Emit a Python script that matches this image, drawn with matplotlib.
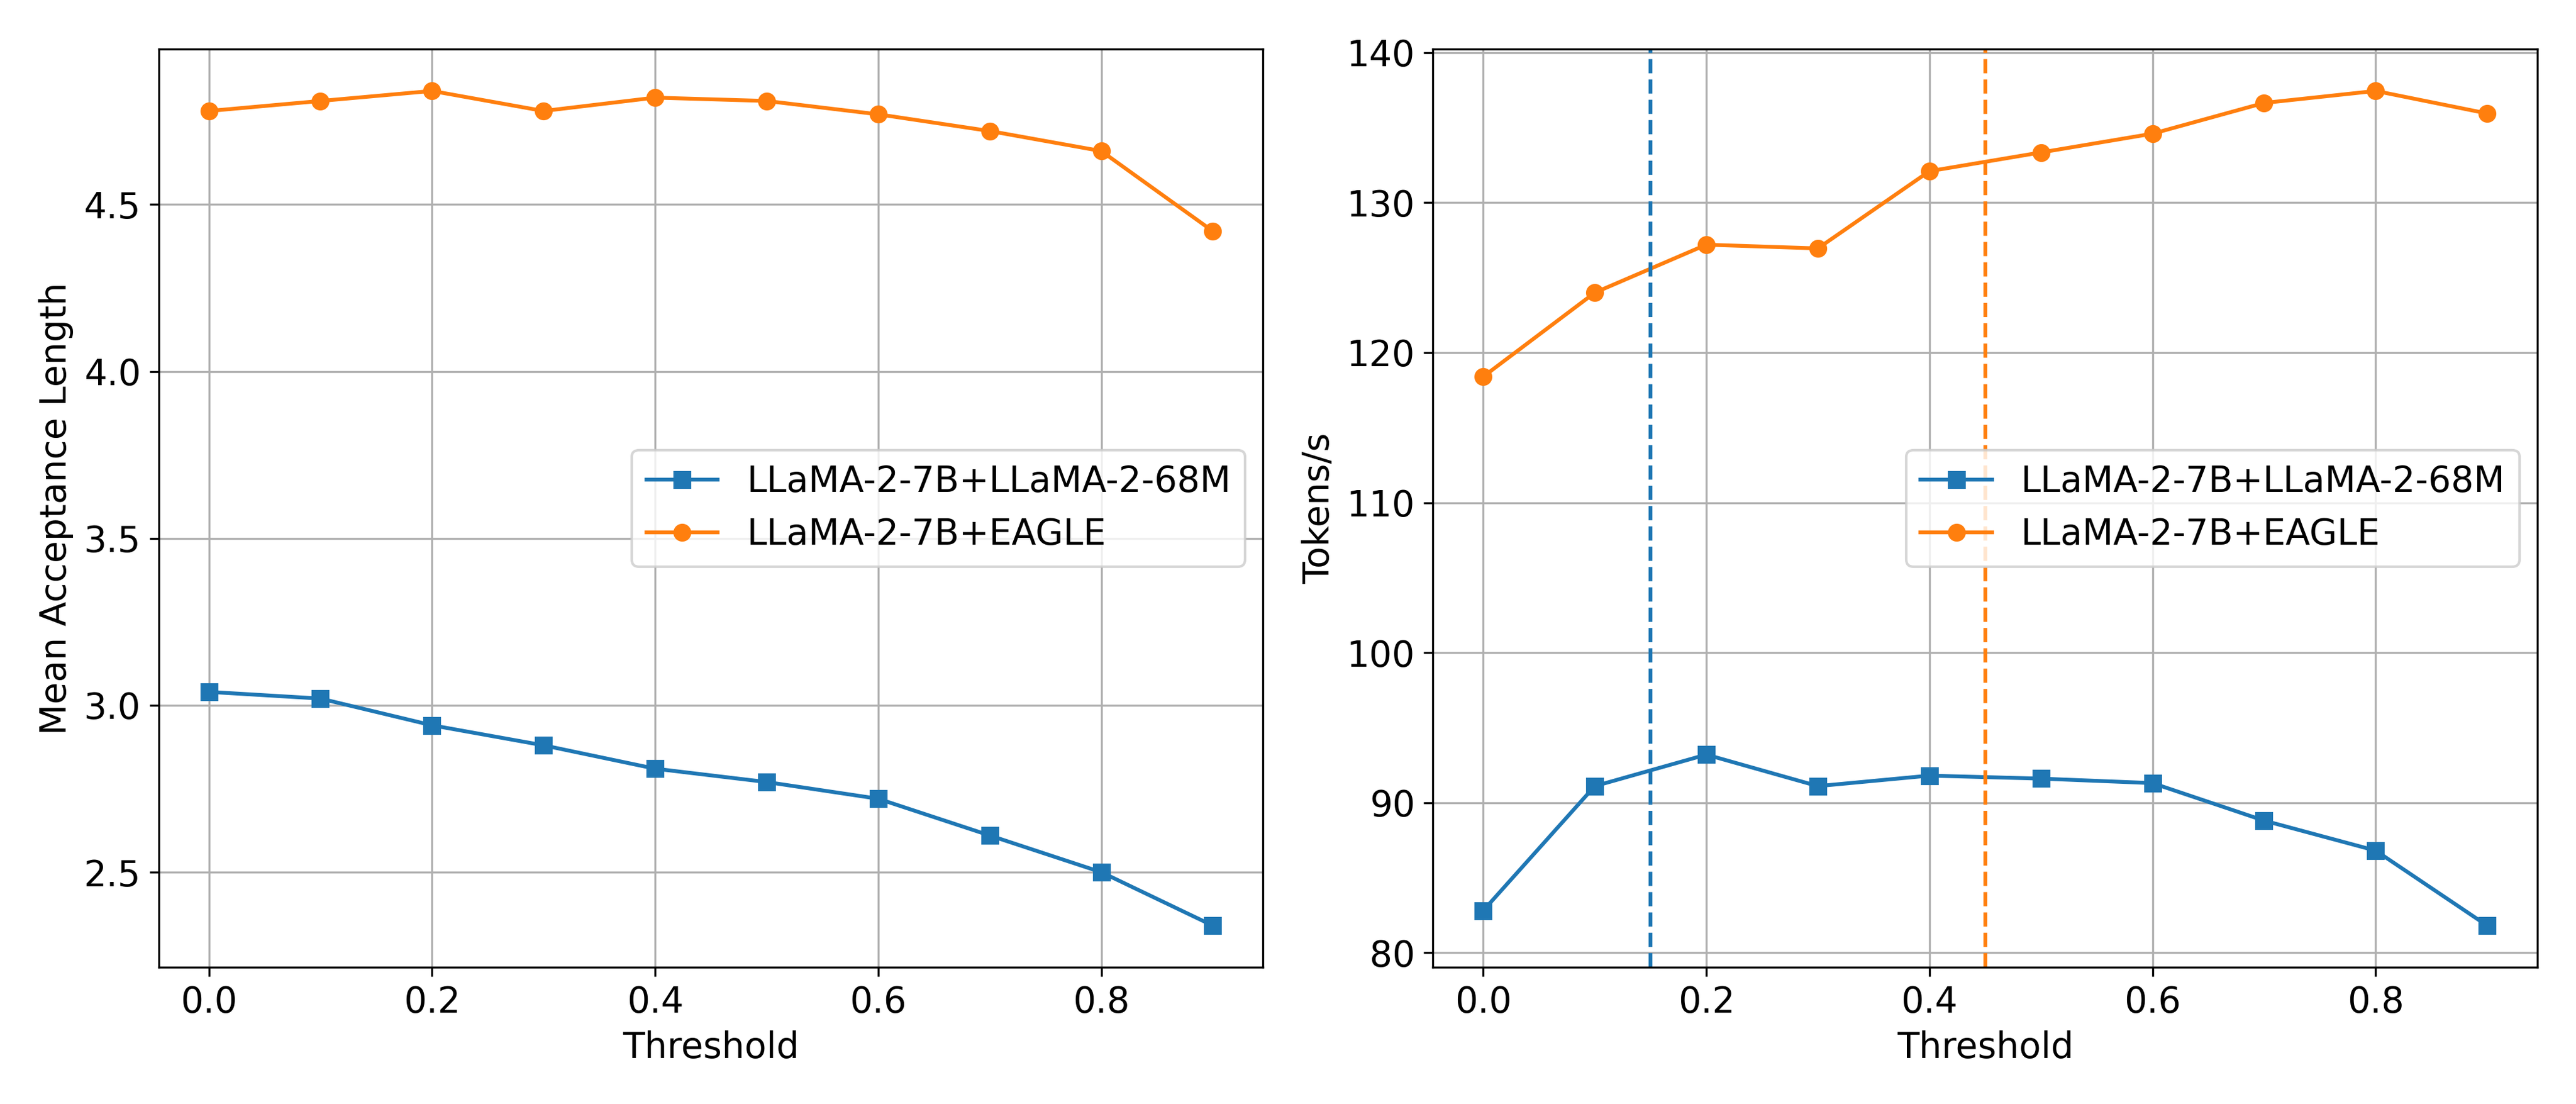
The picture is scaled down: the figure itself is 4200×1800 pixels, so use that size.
import numpy as np
import matplotlib
matplotlib.use("Agg")
import matplotlib.pyplot as plt

thresholds = [0.0, 0.1, 0.2, 0.3, 0.4, 0.5, 0.6, 0.7, 0.8, 0.9]

acc_68m = [3.04, 3.02, 2.94, 2.88, 2.81, 2.77, 2.72, 2.61, 2.50, 2.34]
acc_eagle = [4.78, 4.81, 4.84, 4.78, 4.82, 4.81, 4.77, 4.72, 4.66, 4.42]

tps_68m = [82.8, 91.1, 93.2, 91.1, 91.8, 91.6, 91.3, 88.8, 86.8, 81.8]
tps_eagle = [118.4, 124.0, 127.2, 126.95, 132.1, 133.35, 134.6, 136.65, 137.45, 135.95]

vline_68m = 0.15
vline_eagle = 0.45

label_68m = "LLaMA-2-7B+LLaMA-2-68M"
label_eagle = "LLaMA-2-7B+EAGLE"

plt.rcParams['font.size'] = 14

fig, (ax1, ax2) = plt.subplots(1, 2, figsize=(14, 6), dpi=300)

ax1.plot(thresholds, acc_68m, marker='s', color='C0', label=label_68m)
ax1.plot(thresholds, acc_eagle, marker='o', color='C1', label=label_eagle)
ax1.set_xlabel("Threshold")
ax1.set_ylabel("Mean Acceptance Length")
ax1.grid(True)
ax1.legend(loc='center right')

ax2.plot(thresholds, tps_68m, marker='s', color='C0', label=label_68m)
ax2.plot(thresholds, tps_eagle, marker='o', color='C1', label=label_eagle)
ax2.axvline(vline_68m, color='C0', linestyle='--')
ax2.axvline(vline_eagle, color='C1', linestyle='--')
ax2.set_xlabel("Threshold")
ax2.set_ylabel("Tokens/s")
ax2.grid(True)
ax2.legend(loc='center right')

plt.tight_layout()
plt.savefig("out.png")
